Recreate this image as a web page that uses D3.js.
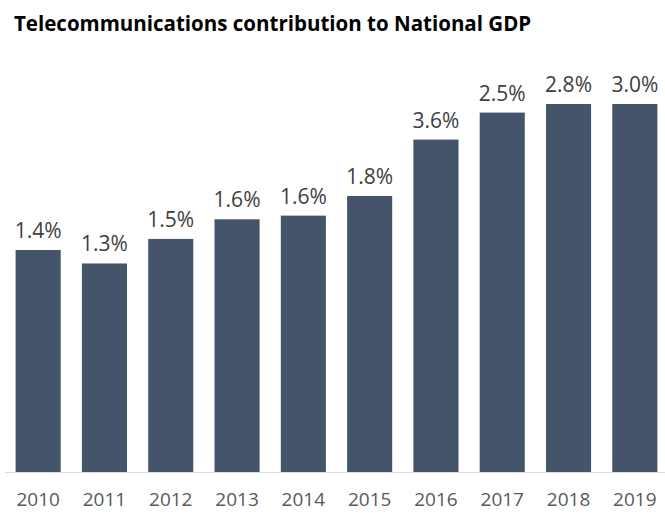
<!DOCTYPE html>
<html>
<head>
<meta charset="utf-8">
<script src="https://cdn.jsdelivr.net/npm/d3@7"></script>
<style>
  body { margin: 0; background: #fff; }
  text { font-family: "Open Sans", sans-serif; }
</style>
</head>
<body>
<svg></svg>
<script>
// years on the x axis
const years = ["2010", "2011", "2012", "2013", "2014", "2015", "2016", "2017", "2018", "2019"];
// bar heights as drawn (they don't follow the printed labels)
const barValues = [1.81, 1.70, 1.90, 2.06, 2.09, 2.25, 2.71, 2.93, 3.0, 3.0];
// labels printed above each bar
const barLabels = ["1.4%", "1.3%", "1.5%", "1.6%", "1.6%", "1.8%", "3.6%", "2.5%", "2.8%", "3.0%"];

const width = 665, height = 513;

const svg = d3.select("svg")
    .attr("width", width)
    .attr("height", height);

const x = d3.scaleBand()
    .domain(years)
    .range([5, 668])
    .paddingInner(0.32)
    .paddingOuter(0.16);

const y = d3.scaleLinear()
    .domain([0, 3])
    .range([472, 104]);

svg.append("text")
    .attr("x", 14)
    .attr("y", 31)
    .attr("font-size", 20.5)
    .attr("font-weight", "bold")
    .attr("fill", "#000")
    .text("Telecommunications contribution to National GDP");

svg.selectAll("rect.bar")
    .data(barValues)
    .enter().append("rect")
    .attr("class", "bar")
    .attr("x", (d, i) => x(years[i]))
    .attr("y", d => y(d))
    .attr("width", x.bandwidth())
    .attr("height", d => y(0) - y(d))
    .attr("fill", "#44546a");

svg.selectAll("text.lbl")
    .data(barValues)
    .enter().append("text")
    .attr("class", "lbl")
    .attr("x", (d, i) => x(years[i]) + x.bandwidth() / 2)
    .attr("y", d => y(d) - 12)
    .attr("text-anchor", "middle")
    .attr("font-size", 21)
    .attr("fill", "#404040")
    .text((d, i) => barLabels[i]);

// x axis: baseline plus year labels
const xAxis = svg.append("g")
    .attr("transform", `translate(0,${y(0)})`)
    .call(d3.axisBottom(x).tickSize(0).tickPadding(21));

xAxis.select(".domain")
    .attr("stroke", "#d9d9d9")
    .attr("d", `M5,0.5H665`);

xAxis.selectAll("text")
    .attr("font-family", "Open Sans, sans-serif")
    .attr("font-size", 19)
    .attr("fill", "#595959");
</script>
</body>
</html>
